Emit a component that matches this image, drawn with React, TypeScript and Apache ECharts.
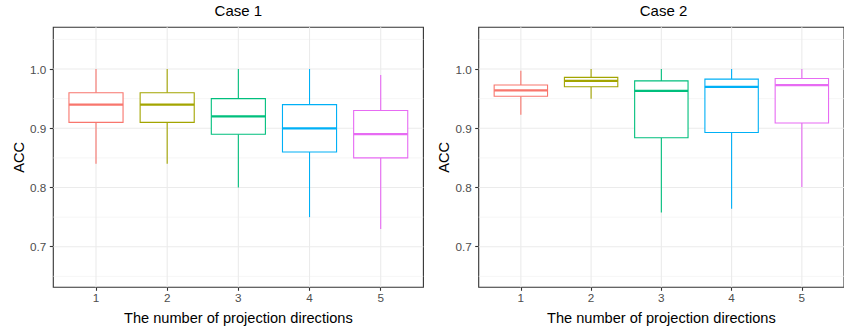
import React, { useEffect, useRef } from "react";
import * as echarts from "echarts";

const categories = [1, 2, 3, 4, 5];
const yTicks = [0.7, 0.8, 0.9, 1.0];
const yMinorLines = [0.65, 0.75, 0.85, 0.95, 1.05];
const colors = ["#F8766D", "#A3A500", "#00BF7D", "#00B0F6", "#E76BF3"];
const panelTitles = ["Case 1", "Case 2"];
const xTitle = "The number of projection directions";
const yTitle = "ACC";
// each row: [min, Q1, median, Q3, max]
const case1Stats = [
  [0.84, 0.91, 0.94, 0.96, 1.0],
  [0.84, 0.91, 0.94, 0.96, 1.0],
  [0.8, 0.89, 0.92, 0.95, 1.0],
  [0.75, 0.86, 0.9, 0.94, 1.0],
  [0.73, 0.85, 0.89, 0.93, 0.99],
];
const case2Stats = [
  [0.923, 0.954, 0.964, 0.973, 0.997],
  [0.95, 0.97, 0.98, 0.986, 1.0],
  [0.758, 0.884, 0.963, 0.98, 1.0],
  [0.764, 0.893, 0.97, 0.983, 1.0],
  [0.801, 0.909, 0.973, 0.984, 1.0],
];

const FONT = "'Liberation Sans', Arial, Helvetica, sans-serif";
const BOX_W = 0.76;
const GRID_COLOR = "#EBEBEB";
const Y_MIN = 0.6315;
const Y_MAX = 1.0705;

function renderBox(params: any, api: any) {
  const x = api.value(0);
  const mn = api.value(1);
  const q1 = api.value(2);
  const md = api.value(3);
  const q3 = api.value(4);
  const mx = api.value(5);
  const color = colors[api.value(6)];
  const half = api.size([BOX_W, 0])[0] / 2;
  const pMin = api.coord([x, mn]);
  const pQ1 = api.coord([x, q1]);
  const pMd = api.coord([x, md]);
  const pQ3 = api.coord([x, q3]);
  const pMax = api.coord([x, mx]);
  const cx = pMin[0];
  return {
    type: "group",
    children: [
      { type: "line", shape: { x1: cx, y1: pQ3[1], x2: cx, y2: pMax[1] }, style: { stroke: color, lineWidth: 1.1 } },
      { type: "line", shape: { x1: cx, y1: pQ1[1], x2: cx, y2: pMin[1] }, style: { stroke: color, lineWidth: 1.1 } },
      {
        type: "rect",
        shape: { x: cx - half, y: pQ3[1], width: 2 * half, height: pQ1[1] - pQ3[1] },
        style: { fill: "#FFFFFF", stroke: color, lineWidth: 1.1 },
      },
      { type: "line", shape: { x1: cx - half, y1: pMd[1], x2: cx + half, y2: pMd[1] }, style: { stroke: color, lineWidth: 2.3 } },
    ],
  };
}

function renderVLine(params: any, api: any) {
  const cs = params.coordSys;
  const x = api.coord([api.value(0), Y_MIN])[0];
  return { type: "line", shape: { x1: x, y1: cs.y, x2: x, y2: cs.y + cs.height }, style: { stroke: GRID_COLOR, lineWidth: 1.1 } };
}

function renderHLine(params: any, api: any) {
  const cs = params.coordSys;
  const y = api.coord([1, api.value(0)])[1];
  const major = api.value(1) === 1;
  return {
    type: "line",
    shape: { x1: cs.x, y1: y, x2: cs.x + cs.width, y2: y },
    style: { stroke: major ? GRID_COLOR : "#F2F2F2", lineWidth: major ? 1.1 : 0.7 },
  };
}

export default function App() {
  const ref = useRef<HTMLDivElement>(null);
  useEffect(() => {
    if (!ref.current) return;
    const chart = echarts.init(ref.current, null, { renderer: "svg" });
    const grids = [
      { left: 53.3, top: 27.3, width: 370.1, height: 260 },
      { left: 478.7, top: 27.3, width: 369.7, height: 260 },
    ];
    const stats = [case1Stats, case2Stats];
    const xAxes: any[] = [];
    const yAxes: any[] = [];
    const series: any[] = [];
    grids.forEach((g, i) => {
      xAxes.push({
        type: "value",
        gridIndex: i,
        min: 0.4,
        max: 5.6,
        axisLine: { show: false },
        splitLine: { show: false },
        axisTick: { show: true, customValues: categories, length: 3.5, lineStyle: { color: "#333333", width: 1.1 } },
        axisLabel: { customValues: categories, margin: 4, color: "#4D4D4D", fontSize: 11.7, fontFamily: FONT },
        name: xTitle,
        nameLocation: "middle",
        nameGap: 23,
        nameTextStyle: { fontSize: 14.6, color: "#000000", fontFamily: FONT },
      });
      yAxes.push({
        type: "value",
        gridIndex: i,
        min: Y_MIN,
        max: Y_MAX,
        axisLine: { show: false },
        splitLine: { show: false },
        axisTick: { show: true, customValues: yTicks, length: 3.5, lineStyle: { color: "#333333", width: 1.1 } },
        axisLabel: {
          customValues: yTicks,
          margin: 7,
          color: "#4D4D4D",
          fontSize: 11.7,
          fontFamily: FONT,
          formatter: (v: number) => v.toFixed(1),
        },
        name: yTitle,
        nameLocation: "middle",
        nameGap: 27,
        nameTextStyle: { fontSize: 14.6, color: "#000000", fontFamily: FONT },
      });
      series.push({
        type: "custom",
        xAxisIndex: i,
        yAxisIndex: i,
        z: 1,
        silent: true,
        renderItem: renderHLine,
        encode: { y: 0 },
        data: [...yMinorLines.map((v) => [v, 0]), ...yTicks.map((v) => [v, 1])],
      });
      series.push({
        type: "custom",
        xAxisIndex: i,
        yAxisIndex: i,
        z: 1,
        silent: true,
        renderItem: renderVLine,
        encode: { x: 0 },
        data: categories.map((c) => [c]),
      });
      series.push({
        type: "custom",
        xAxisIndex: i,
        yAxisIndex: i,
        z: 3,
        renderItem: renderBox,
        encode: { x: 0, y: [1, 2, 3, 4, 5] },
        data: stats[i].map((s, k) => [categories[k], ...s, k]),
      });
    });
    chart.setOption({
      animation: false,
      backgroundColor: "#FFFFFF",
      grid: grids.map((g) => ({
        ...g,
        show: true,
        backgroundColor: "#FFFFFF",
        borderColor: "#333333",
        borderWidth: 1.1,
        containLabel: false,
      })),
      xAxis: xAxes,
      yAxis: yAxes,
      series,
      graphic: panelTitles.map((t, i) => ({
        type: "text",
        x: grids[i].left + grids[i].width / 2,
        y: 10.5,
        style: {
          text: t,
          fontSize: 15,
          fontFamily: FONT,
          fill: "#000000",
          textAlign: "center",
          textVerticalAlign: "middle",
        },
      })),
    });
    return () => chart.dispose();
  }, []);
  return (
    <div
      ref={ref}
      style={{ position: "absolute", left: 0, top: 0, width: 844, height: 333, background: "#fff" }}
    />
  );
}
